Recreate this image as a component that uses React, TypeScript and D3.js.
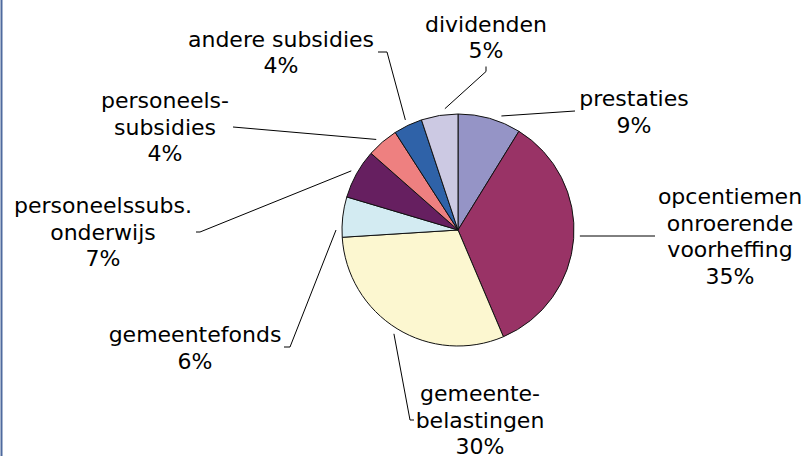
import * as React from 'react';
import * as d3 from 'd3';

// slices, clockwise from 12 o'clock
const categories = [
    'prestaties',
    'opcentiemen onroerende voorheffing',
    'gemeentebelastingen',
    'gemeentefonds',
    'personeelssubs. onderwijs',
    'personeelssubsidies',
    'andere subsidies',
    'dividenden'
];
const values = [8.8, 34.8, 30.4, 5.6, 6.9, 4.4, 4.0, 5.1];
const pctLabels = ['9%', '35%', '30%', '6%', '7%', '4%', '4%', '5%'];
const labelLines = [
    ['prestaties'],
    ['opcentiemen', 'onroerende', 'voorheffing'],
    ['gemeente-', 'belastingen'],
    ['gemeentefonds'],
    ['personeelssubs.', 'onderwijs'],
    ['personeels-', 'subsidies'],
    ['andere subsidies'],
    ['dividenden']
];
const colors = ['#9594c6', '#993366', '#fcf7d0', '#d3ebf2', '#661f60', '#ee8080', '#2f62a8', '#ccc9e3'];

const WIDTH = 802;
const HEIGHT = 456;
const CX = 458;
const CY = 230;
const RADIUS = 116;
const FONT = '"DejaVu Sans", Verdana, sans-serif';
const FONT_SIZE = 22;
const LINE_H = 26.7;

// label placement (layout only): text centre + first baseline, leader elbow and tick end
const labelLayout = [
    { x: 634, y: 106, ex: 575, ey: 111, tx: 575, ty: 111, nudge: 5 },
    { x: 730, y: 204, ex: 655, ey: 236, tx: 655, ty: 236, nudge: -1.5 },
    { x: 480, y: 401, ex: 410, ey: 420, tx: 414, ty: 420, nudge: 0 },
    { x: 195, y: 342, ex: 290, ey: 347, tx: 284, ty: 347, nudge: -6.5 },
    { x: 103, y: 213, ex: 200, ey: 232, tx: 196, ty: 232, nudge: 0 },
    { x: 165, y: 108, ex: 233, ey: 127, tx: 233, ty: 127, nudge: -1.4 },
    { x: 281, y: 46.5, ex: 387, ey: 52, tx: 378, ty: 52, nudge: 0 },
    { x: 486, y: 31.5, ex: 486, ey: 71.5, tx: 486, ty: 66.5, nudge: 3 }
];

export default function App() {
    const ref = React.useRef<SVGSVGElement>(null);

    React.useEffect(() => {
        const svg = d3.select(ref.current);
        svg.selectAll('*').remove();

        // left border of the chart frame
        svg.append('rect')
            .attr('x', 0.5).attr('y', 0)
            .attr('width', 2).attr('height', HEIGHT)
            .attr('fill', '#4f6a9e');

        const pie = d3.pie<number>().sort(null).value(d => d);
        const arcs = pie(values);
        const arc = d3.arc<d3.PieArcDatum<number>>().innerRadius(0).outerRadius(RADIUS);

        const canvas = svg.append('g')
            .attr('transform', 'translate(' + [CX, CY] + ')');

        canvas.selectAll('path.slice')
            .data(arcs)
            .enter()
            .append('path')
            .attr('class', 'slice')
            .attr('d', arc)
            .attr('fill', (d, i) => colors[i])
            .attr('stroke', '#111')
            .attr('stroke-width', 1)
            .attr('stroke-linejoin', 'round');

        // leader lines start just outside the slice, at (roughly) its mid angle
        const leaders = svg.append('g').attr('class', 'leaders');
        arcs.forEach((d, i) => {
            const l = labelLayout[i];
            const a = (d.startAngle + d.endAngle) / 2 + l.nudge * Math.PI / 180;
            const [px, py] = d3.pointRadial(a, RADIUS + 6);
            const pts: [number, number][] = [[CX + px, CY + py], [l.ex, l.ey], [l.tx, l.ty]];
            leaders.append('path')
                .attr('d', d3.line()(pts))
                .attr('fill', 'none')
                .attr('stroke', '#000')
                .attr('stroke-width', 1);
        });

        const labels = svg.append('g').attr('class', 'labels')
            .style('font-family', FONT)
            .style('font-size', FONT_SIZE + 'px')
            .attr('fill', '#000')
            .attr('text-anchor', 'middle');

        labelLines.forEach((lines, i) => {
            const l = labelLayout[i];
            const t = labels.append('text')
                .attr('x', l.x).attr('y', l.y)
                .attr('aria-label', categories[i]);
            lines.concat([pctLabels[i]]).forEach((s, k) => {
                t.append('tspan')
                    .attr('x', l.x)
                    .attr('y', l.y + k * LINE_H)
                    .text(s);
            });
        });
    }, []);

    return (
        <svg
            ref={ref}
            width={WIDTH}
            height={HEIGHT}
            style={{ position: 'fixed', left: 0, top: 0, background: '#fff' }}
        />
    );
}
